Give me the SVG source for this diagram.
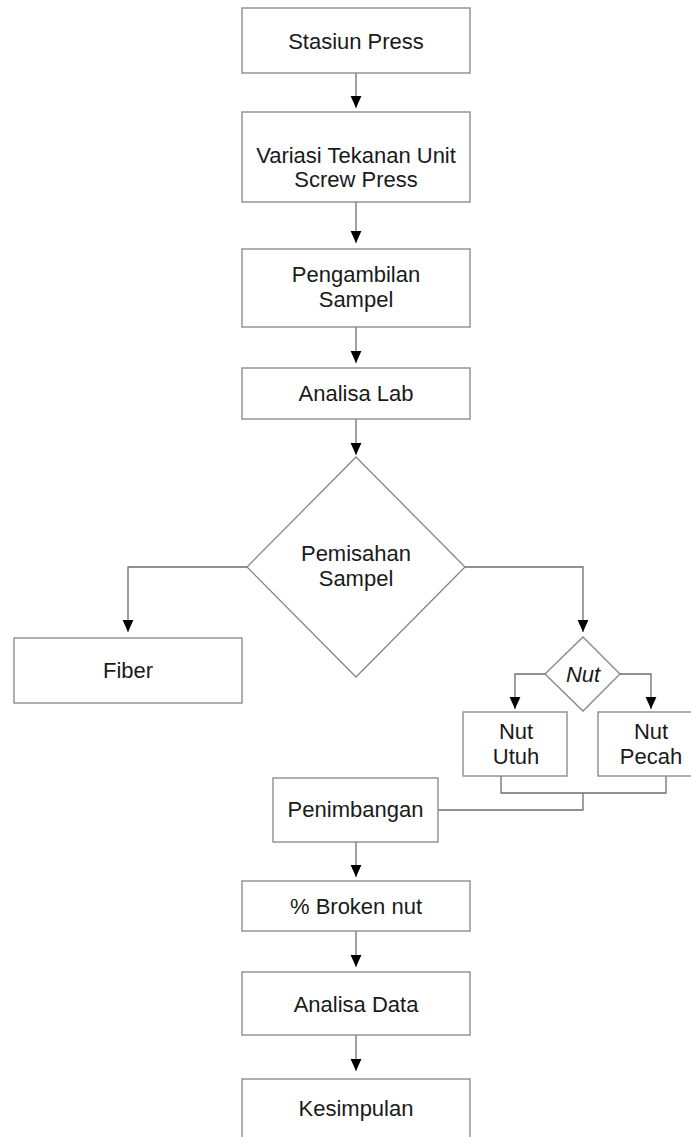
<svg xmlns="http://www.w3.org/2000/svg" width="691" height="1137" viewBox="0 0 691 1137">
<style>
.box{fill:#fff;stroke:#858585;stroke-width:1.3}
.t{font-family:"Liberation Sans",Arial,sans-serif;font-size:22px;fill:#1a1a1a;text-anchor:middle}
.i{font-style:italic}
.c{fill:none;stroke:#6e6e6e;stroke-width:1.3}
</style>
<defs>
<marker id="ah" markerUnits="userSpaceOnUse" markerWidth="12" markerHeight="12" refX="10" refY="5" orient="auto" viewBox="0 0 10 10">
<path d="M0,0.5 L10,5 L0,9.5 Z" fill="#000"/>
</marker>
</defs>
<rect width="691" height="1137" fill="#fff"/>
<g id="connectors">
<path class="c" d="M356,73 V108" marker-end="url(#ah)"/>
<path class="c" d="M356,202 V243" marker-end="url(#ah)"/>
<path class="c" d="M356,327 V363" marker-end="url(#ah)"/>
<path class="c" d="M356,419 V455" marker-end="url(#ah)"/>
<path class="c" d="M247,567 H128 V632" marker-end="url(#ah)"/>
<path class="c" d="M465,567 H583 V632" marker-end="url(#ah)"/>
<path class="c" d="M545,674 H515 V709" marker-end="url(#ah)"/>
<path class="c" d="M620,674 H651 V709" marker-end="url(#ah)"/>
<path class="c" d="M501,776 V793 H666 V776"/>
<path class="c" d="M583,793 V810 H438"/>
<path class="c" d="M356,842 V877" marker-end="url(#ah)"/>
<path class="c" d="M356,931 V967" marker-end="url(#ah)"/>
<path class="c" d="M356,1035 V1071" marker-end="url(#ah)"/>
</g>
<g id="stasiun">
<rect class="box" x="242" y="8" width="228" height="65"/>
<text class="t" x="356" y="48.5">Stasiun Press</text>
</g>
<g id="variasi">
<rect class="box" x="242" y="112" width="228" height="90"/>
<text class="t" x="356" y="162.5">Variasi Tekanan Unit</text>
<text class="t" x="356" y="187">Screw Press</text>
</g>
<g id="pengambilan">
<rect class="box" x="242" y="249" width="228" height="78"/>
<text class="t" x="356" y="282">Pengambilan</text>
<text class="t" x="356" y="307">Sampel</text>
</g>
<g id="analisa-lab">
<rect class="box" x="242" y="368" width="228" height="51"/>
<text class="t" x="356" y="401">Analisa Lab</text>
</g>
<g id="pemisahan">
<polygon class="box" points="356,457 465,567 356,677 247,567"/>
<text class="t" x="356" y="561">Pemisahan</text>
<text class="t" x="356" y="585.5">Sampel</text>
</g>
<g id="fiber">
<rect class="box" x="14" y="638" width="228" height="65"/>
<text class="t" x="128" y="677.5">Fiber</text>
</g>
<g id="nut">
<polygon class="box" points="583,637 620,674 583,711 545,674"/>
<text class="t i" x="583" y="681.5">Nut</text>
</g>
<g id="nut-utuh">
<rect class="box" x="463" y="712" width="104" height="64"/>
<text class="t" x="516" y="739">Nut</text>
<text class="t" x="516" y="764">Utuh</text>
</g>
<g id="nut-pecah">
<rect class="box" x="598" y="712" width="104" height="64"/>
<text class="t" x="651" y="739">Nut</text>
<text class="t" x="651" y="764">Pecah</text>
</g>
<g id="penimbangan">
<rect class="box" x="273" y="778" width="165" height="64"/>
<text class="t" x="355.5" y="816.5">Penimbangan</text>
</g>
<g id="broken-nut">
<rect class="box" x="242" y="881" width="228" height="50"/>
<text class="t" x="356" y="914">% Broken nut</text>
</g>
<g id="analisa-data">
<rect class="box" x="242" y="972" width="228" height="63"/>
<text class="t" x="356" y="1011.5">Analisa Data</text>
</g>
<g id="kesimpulan">
<rect class="box" x="242" y="1079" width="228" height="70"/>
<text class="t" x="356" y="1115.5">Kesimpulan</text>
</g>
</svg>
